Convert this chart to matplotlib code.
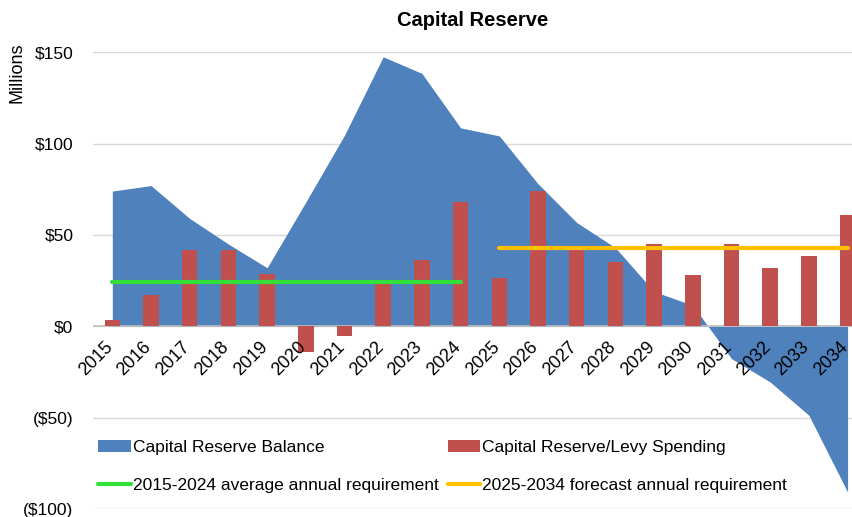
import numpy as np
import matplotlib.pyplot as plt

plt.rcParams['font.family'] = ['Liberation Sans', 'DejaVu Sans']

# Capital reserve data, $ millions
years = [str(y) for y in range(2015, 2035)]
balance = [74, 77, 59, 45, 32, 68, 104.6, 147.5, 138.4, 108.6,
           104.2, 78, 56.8, 43, 19, 11.5, -17.7, -30.5, -48.7, -90.7]
spending = [3.7, 17.3, 41.6, 41.6, 28.8, -14, -5.3, 23.4, 36.5, 68.1,
            26.5, 74.1, 42.3, 35.2, 44.9, 28.3, 44.8, 31.8, 38.3, 60.8]
avg_past = 24.3      # 2015-2024 average annual requirement
avg_forecast = 43.0  # 2025-2034 forecast annual requirement

yticks = [-100, -50, 0, 50, 100, 150]
ytick_labels = ['($100)', '($50)', '$0', '$50', '$100', '$150']

x = np.arange(len(years))

fig = plt.figure(figsize=(8.53, 5.17), dpi=100)
ax = fig.add_axes([0.109, 0.0155, 0.891, 0.8835])

area = ax.fill_between(x, balance, 0, color='#4F81BD', linewidth=0, zorder=2)
ax.axhline(0, color='#BFBFBF', linewidth=1.2, zorder=3)
bars = ax.bar(x, spending, width=0.4, color='#C0504D', zorder=4)
green, = ax.plot([0, 9], [avg_past, avg_past], color='#33E03A', linewidth=3,
                 solid_capstyle='round', zorder=5)
orange, = ax.plot([10, 19], [avg_forecast, avg_forecast], color='#FFC000',
                  linewidth=3, solid_capstyle='round', zorder=5)

ax.set_xlim(-0.5, 19.14)
ax.set_ylim(-100, 150)
ax.set_xticks([])
ax.set_yticks(yticks)
ax.set_yticklabels(ytick_labels, fontsize=12.5)
ax.tick_params(axis='y', length=0, pad=14)
ax.grid(axis='y', color='#D9D9D9', linewidth=1, zorder=0)
ax.set_axisbelow(True)
for s in ax.spines.values():
    s.set_visible(False)

# year labels sit just under the zero line
for i, yr in enumerate(years):
    ax.text(i + 0.1, -6.5, yr, rotation=45, ha='right', va='top',
            fontsize=13, zorder=6)

ax.set_title('Capital Reserve', fontsize=14.5, fontweight='bold', pad=19)
fig.text(0.02, 0.918, 'Millions', rotation=90, ha='center', va='top',
         fontsize=13)

ax.legend([area, green, bars, orange],
          ['Capital Reserve Balance', '2015-2024 average annual requirement',
           'Capital Reserve/Levy Spending', '2025-2034 forecast annual requirement'],
          ncol=2, loc='lower left', bbox_to_anchor=(-0.002, 0.02), frameon=False,
          fontsize=12.5, handlelength=1.85, handletextpad=0.15,
          columnspacing=0.5, labelspacing=1.3, borderaxespad=0)

fig.savefig('out.png', dpi=100)
